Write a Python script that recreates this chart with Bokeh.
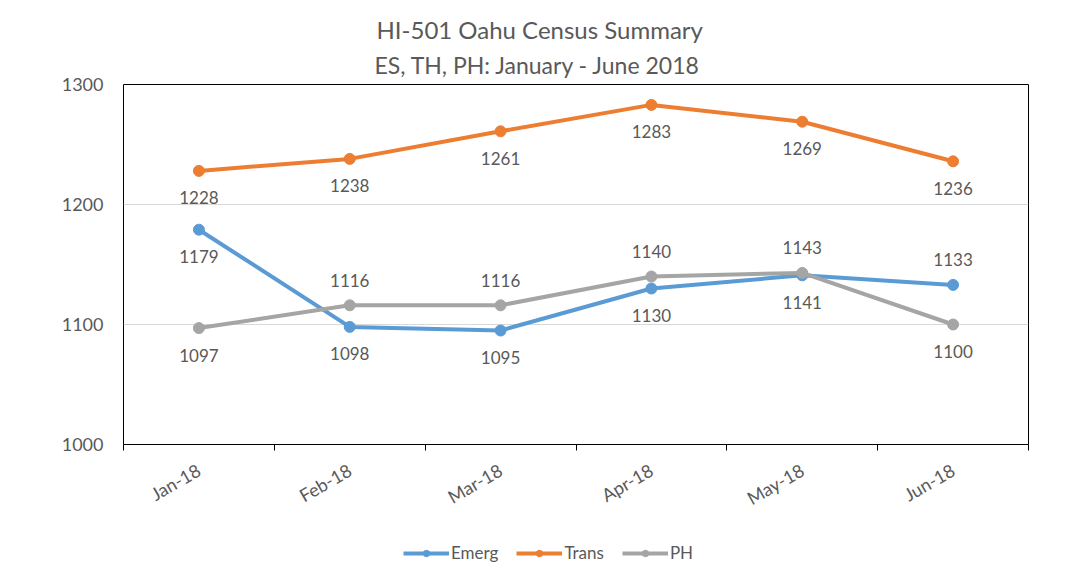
from bokeh.plotting import figure
from bokeh.models import (Range1d, FixedTicker, Legend, LegendItem, Title, ColumnDataSource)
from bokeh.layouts import column
from bokeh.embed import file_html
from bokeh.resources import INLINE
import math

# ---- data ----
months = ["Jan-18", "Feb-18", "Mar-18", "Apr-18", "May-18", "Jun-18"]
emerg = [1179, 1098, 1095, 1130, 1141, 1133]
trans = [1228, 1238, 1261, 1283, 1269, 1236]
ph = [1097, 1116, 1116, 1140, 1143, 1100]
series_names = ["Emerg", "Trans", "PH"]
y_ticks = [1000, 1100, 1200, 1300]

# label placement (1 = below point, -1 = above point)
emerg_pos = [1, 1, 1, 1, 1, -1]
trans_pos = [1, 1, 1, 1, 1, 1]
ph_pos = [1, -1, -1, -1, -1, 1]

FONT = "Lato"
TXT = "#595959"
colors = {"Emerg": "#5B9BD5", "Trans": "#ED7D31", "PH": "#A5A5A5"}

xs = [i + 0.5 for i in range(len(months))]
series = [("Emerg", emerg, emerg_pos), ("Trans", trans, trans_pos), ("PH", ph, ph_pos)]

p = figure(width=1079, height=521, output_backend="svg", toolbar_location=None,
           x_range=Range1d(0, len(months)), y_range=Range1d(1000, 1300),
           min_border_left=123, min_border_right=51, min_border_top=84, min_border_bottom=76,
           title=None)

p.outline_line_color = "black"
p.outline_line_width = 1
p.background_fill_color = "white"
p.border_fill_color = "white"

# y axis
p.yaxis.ticker = FixedTicker(ticks=y_ticks)
p.yaxis.axis_line_color = None
p.yaxis.major_tick_line_color = None
p.yaxis.minor_tick_line_color = None
p.yaxis.major_tick_out = 0
p.yaxis.major_tick_in = 0
p.yaxis.major_label_standoff = 20
p.yaxis.major_label_text_font = FONT
p.yaxis.major_label_text_font_size = "18px"
p.yaxis.major_label_text_color = TXT

# x axis
p.xaxis.ticker = FixedTicker(ticks=xs, minor_ticks=list(range(len(months) + 1)))
p.xaxis.major_label_overrides = {x: m for x, m in zip(xs, months)}
p.xaxis.major_tick_line_color = None
p.xaxis.major_tick_out = 0
p.xaxis.major_tick_in = 0
p.xaxis.minor_tick_line_color = "black"
p.xaxis.minor_tick_out = 6
p.xaxis.minor_tick_in = 0
p.xaxis.axis_line_color = "black"
p.xaxis.major_label_orientation = math.pi / 6
p.xaxis.major_label_standoff = 18
p.xaxis.major_label_text_font = FONT
p.xaxis.major_label_text_font_size = "18px"
p.xaxis.major_label_text_color = TXT

p.xgrid.grid_line_color = None
p.ygrid.ticker = FixedTicker(ticks=y_ticks)
p.ygrid.grid_line_color = "#D9D9D9"
p.ygrid.grid_line_width = 1

for name, vals, pos in series:
    c = colors[name]
    offs = [27 if s > 0 else -25 for s in pos]
    src = ColumnDataSource(dict(x=xs, y=vals, lab=[str(v) for v in vals], off=offs))
    p.line("x", "y", source=src, line_color=c, line_width=4)
    p.scatter("x", "y", source=src, size=11, fill_color=c, line_color=c)
    p.text("x", "y", text="lab", source=src, y_offset="off", text_align="center",
           text_baseline="middle", text_font_size="17px", text_color=TXT,
           text_font={"value": FONT})

t2 = Title(text="ES, TH, PH: January - June 2018", align="left", text_font=FONT,
           text_font_size="23px", text_font_style="normal", text_color=TXT, offset=251,
           standoff=11)
t1 = Title(text="HI-501 Oahu Census Summary", align="left", text_font=FONT,
           text_font_size="24px", text_font_style="normal", text_color=TXT, offset=253,
           standoff=0)
p.add_layout(t2, "above")
p.add_layout(t1, "above")

# ---- legend strip (series drawn out of this strip's visible range) ----
lg = figure(width=1079, height=52, output_backend="svg", toolbar_location=None,
            x_range=Range1d(100, 101), y_range=Range1d(0, 1), min_border=0)
lg.axis.visible = False
lg.grid.grid_line_color = None
lg.outline_line_color = None
items = []
for name, vals, pos in series:
    c = colors[name]
    r1 = lg.line(x=xs, y=vals, line_color=c, line_width=4)
    r2 = lg.scatter(x=xs, y=vals, size=12, fill_color=c, line_color=c)
    items.append(LegendItem(label=name, renderers=[r1, r2]))
legend = Legend(items=items, orientation="horizontal", location=(280, 10),
                label_text_font=FONT, label_text_font_size="17px", label_text_color=TXT,
                glyph_width=46, glyph_height=16, label_standoff=2, spacing=18,
                border_line_color=None, background_fill_alpha=0, margin=0, padding=4)
lg.add_layout(legend, "center")

layout = column(p, lg, spacing=0)
open("out.html", "w").write(file_html(layout, INLINE))
